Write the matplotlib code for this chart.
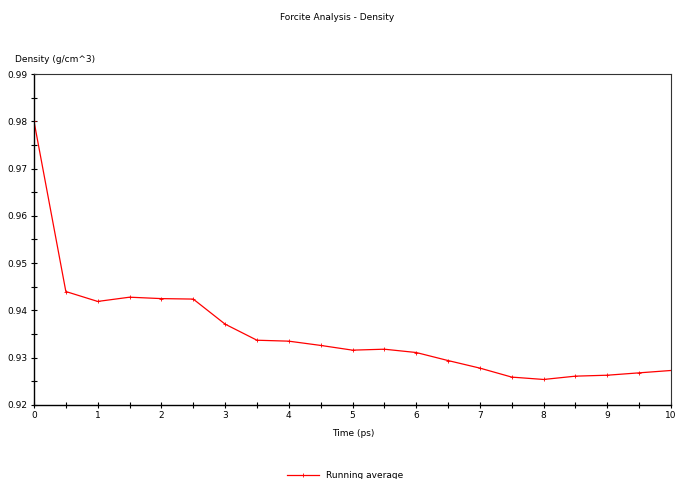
import matplotlib
matplotlib.use("Agg")
import matplotlib.pyplot as plt
from matplotlib.ticker import MultipleLocator

time_ps = [0, 0.5, 1, 1.5, 2, 2.5, 3, 3.5, 4, 4.5, 5, 5.5, 6, 6.5, 7, 7.5, 8, 8.5, 9, 9.5, 10]
density = [0.9800, 0.9440, 0.9419, 0.9428, 0.9425, 0.9424, 0.9371, 0.9337, 0.9335, 0.9326,
           0.9316, 0.9318, 0.9311, 0.9294, 0.9278, 0.9259, 0.9254, 0.9261, 0.9263, 0.9268, 0.9273]

plt.rcParams["font.family"] = ["DejaVu Sans"]
plt.rcParams["font.size"] = 6.5

fig = plt.figure(figsize=(6.75, 4.79), dpi=100)
ax = fig.add_axes([34 / 675, 1 - 405 / 479, (671 - 34) / 675, (405 - 74) / 479])

line, = ax.plot(time_ps, density, color="red", lw=0.9, marker="+", ms=3, mew=0.6,
                label="Running average")

ax.set_xlim(0, 10)
ax.set_ylim(0.92, 0.99)
ax.xaxis.set_major_locator(MultipleLocator(1))
ax.xaxis.set_minor_locator(MultipleLocator(0.5))
ax.yaxis.set_major_locator(MultipleLocator(0.01))
ax.yaxis.set_minor_locator(MultipleLocator(0.005))
ax.yaxis.set_major_formatter(plt.FuncFormatter(lambda v, p: f"{v:.2f}"))
ax.tick_params(which="both", direction="inout", length=5, width=0.8, color="black",
               labelsize=6.5, pad=2)

for side in ["left", "bottom"]:
    ax.spines[side].set_color("black")
    ax.spines[side].set_linewidth(1)
for side in ["top", "right"]:
    ax.spines[side].set_color("#333333")
    ax.spines[side].set_linewidth(0.8)

fig.text(0.5, 1 - 18 / 479, "Forcite Analysis - Density", ha="center", va="center", fontsize=6.5)
fig.text(15 / 675, 1 - 60 / 479, "Density (g/cm^3)", ha="left", va="center", fontsize=6.5)
fig.text(353 / 675, 1 - 433 / 479, "Time (ps)", ha="center", va="center", fontsize=6.5)

fig.legend(handles=[line], loc="center", bbox_to_anchor=(345 / 675, 1 - 476 / 479),
           frameon=False, fontsize=6.5, handlelength=3.5)

fig.savefig("out.png", dpi=100)
